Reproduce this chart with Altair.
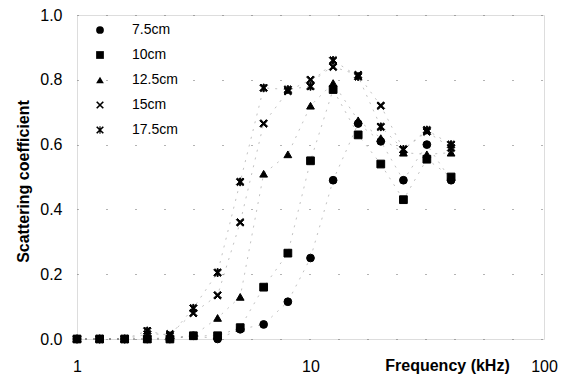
import altair as alt
import pandas as pd

freq = [1, 1.25, 1.6, 2, 2.5, 3.15, 4, 5, 6.3, 8, 10, 12.5, 16, 20, 25, 31.5, 40]
series_names = ["7.5cm", "10cm", "12.5cm", "15cm", "17.5cm"]
s75 = [0, 0, 0, 0, 0, 0.01, 0, 0.03, 0.045, 0.115, 0.25, 0.49, 0.665, 0.61, 0.49, 0.60, 0.49]
s10 = [0, 0, 0, 0, 0, 0.01, 0.01, 0.035, 0.16, 0.265, 0.55, 0.77, 0.63, 0.54, 0.43, 0.555, 0.50]
s125 = [0, 0, 0, 0, 0.005, 0.01, 0.065, 0.13, 0.51, 0.57, 0.72, 0.79, 0.675, 0.62, 0.575, 0.57, 0.575]
s15 = [0, 0, 0, 0.015, 0.015, 0.08, 0.135, 0.36, 0.665, 0.765, 0.80, 0.84, 0.815, 0.72, 0.585, 0.64, 0.59]
s175 = [0, 0, 0, 0.025, 0.01, 0.095, 0.205, 0.485, 0.775, 0.77, 0.78, 0.86, 0.81, 0.655, 0.585, 0.645, 0.60]
y_ticks = [0, 0.2, 0.4, 0.6, 0.8, 1.0]
x_ticks = [1, 10, 100]

rows = []
for name, vals in zip(series_names, [s75, s10, s125, s15, s175]):
    for f, v in zip(freq, vals):
        rows.append({"series": name, "freq": f, "value": v})
df = pd.DataFrame(rows)

# filled-polygon marker shapes (unit square -1..1)
X_PATH = ("M-0.7,-1L1,0.7L0.7,1L-1,-0.7Z"
          "M0.7,-1L1,-0.7L-0.7,1L-1,0.7Z")
STAR_PATH = X_PATH + "M-0.15,-1L0.15,-1L0.15,1L-0.15,1Z"
shapes = ["circle", "square", "triangle-up", X_PATH, STAR_PATH]

FONT = "Liberation Sans"

x_enc = alt.X(
    "freq:Q",
    scale=alt.Scale(type="log", domain=[1, 100]),
    axis=alt.Axis(
        values=x_ticks, format="~g", grid=False, domain=False, ticks=False, tickSize=0,
        labelFlush=False, labelPadding=19, labelFontSize=16, labelFont=FONT, labelColor="black",
        title="Frequency (kHz)", titleFont=FONT, titleFontSize=16, titleFontWeight="bold",
        titleX=370, titleY=31, titleBaseline="alphabetic", titleAlign="center", titleColor="black",
    ),
)
y_enc = alt.Y(
    "value:Q",
    scale=alt.Scale(domain=[0, 1]),
    axis=alt.Axis(
        values=y_ticks, format=".1f", grid=True, gridColor="#666", gridDash=[1, 28], gridWidth=1,
        domain=False, ticks=False, tickSize=0, labelFlush=False, labelPadding=15,
        labelFontSize=16, labelFont=FONT, labelColor="black",
        title="Scattering coefficient", titleFont=FONT, titleFontSize=16, titleFontWeight="bold",
        titleX=-54, titleY=166, titleAlign="center", titleBaseline="middle", titleColor="black",
    ),
)

lines = alt.Chart(df).mark_line(color="#666", strokeWidth=0.8, strokeDash=[2, 6], opacity=0.5).encode(
    x=x_enc, y=y_enc, detail="series:N", order="freq:Q"
)

points = alt.Chart(df).mark_point(
    fill="black", stroke="black", strokeWidth=1, opacity=1, size=60, filled=True
).encode(
    x=x_enc,
    y=y_enc,
    shape=alt.Shape(
        "series:N",
        sort=series_names,
        scale=alt.Scale(domain=series_names, range=shapes),
        legend=alt.Legend(
            title=None, orient="none", legendX=16, legendY=8, padding=0,
            labelFont=FONT, labelFontSize=14, labelColor="black", labelOffset=25,
            rowPadding=11, symbolSize=60, symbolFillColor="black", symbolStrokeColor="black",
            symbolStrokeWidth=1,
        ),
    ),
)

chart = alt.layer(lines, points).properties(
    width=467, height=324,
    autosize=alt.AutoSizeParams(type="none"),
    padding={"left": 69, "top": 7, "right": 14, "bottom": 37},
).configure_view(stroke=None).configure(background="white")

chart.save("out.html", embed_options={"renderer": "svg", "actions": False})
